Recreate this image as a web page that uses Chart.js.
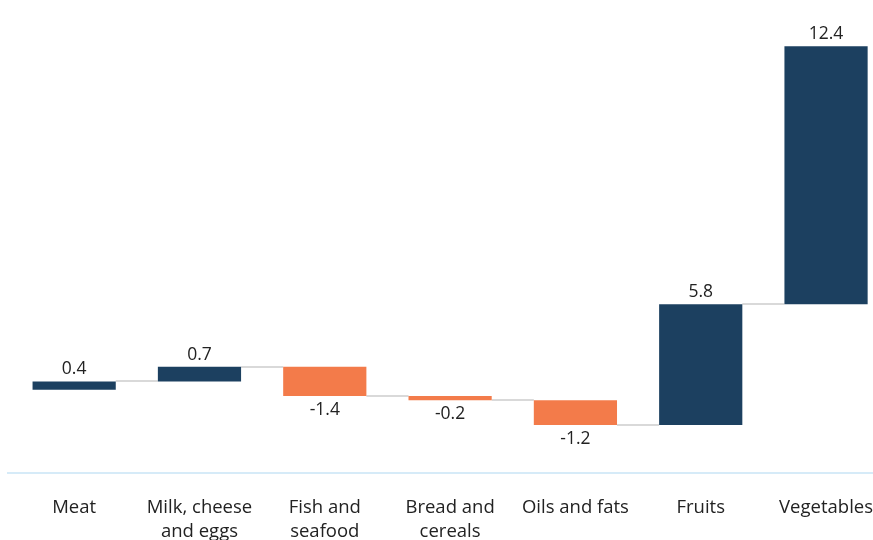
<!DOCTYPE html>
<html><head><meta charset="utf-8">
<script src="https://cdn.jsdelivr.net/npm/chart.js@4/dist/chart.umd.min.js"></script>
<style>html,body{margin:0;padding:0;overflow:hidden;background:#fff}#wrap{position:absolute;left:0;top:0;width:896px;height:540px}</style>
</head><body><div id="wrap"><canvas id="c" width="896" height="540"></canvas></div>
<script>
const categories = [["Meat"], ["Milk, cheese", "and eggs"], ["Fish and", "seafood"], ["Bread and", "cereals"], ["Oils and fats"], ["Fruits"], ["Vegetables"]];
const changes = [0.4, 0.7, -1.4, -0.2, -1.2, 5.8, 12.4];
const valueLabels = ["0.4", "0.7", "-1.4", "-0.2", "-1.2", "5.8", "12.4"];

const floating = [];
let run = 0;
for (const v of changes) { floating.push([run, run + v]); run += v; }
const NAVY = '#1c4060', ORANGE = '#f37b4a';

const connectors = {
  id: 'connectors',
  beforeDatasetsDraw(chart) {
    const ctx = chart.ctx, meta = chart.getDatasetMeta(0), y = chart.scales.y, ca = chart.chartArea;
    ctx.save();
    ctx.strokeStyle = '#d6ebf8'; ctx.lineWidth = 2;
    ctx.beginPath(); ctx.moveTo(7, ca.bottom); ctx.lineTo(chart.width, ca.bottom); ctx.stroke();
    ctx.strokeStyle = '#d9d9d9'; ctx.lineWidth = 2;
    for (let i = 0; i < floating.length - 1; i++) {
      const a = meta.data[i], b = meta.data[i + 1];
      const py = Math.round(y.getPixelForValue(floating[i][1]));
      ctx.beginPath();
      ctx.moveTo(a.x + a.width / 2, py); ctx.lineTo(b.x - b.width / 2, py); ctx.stroke();
    }
    ctx.restore();
  },
  afterDatasetsDraw(chart) {
    const ctx = chart.ctx, meta = chart.getDatasetMeta(0), y = chart.scales.y;
    ctx.save(); ctx.fillStyle = '#222'; ctx.font = '17.5px "Open Sans"'; ctx.textAlign = 'center'; ctx.textBaseline = 'middle';
    for (let i = 0; i < floating.length; i++) {
      const el = meta.data[i];
      const py = y.getPixelForValue(floating[i][1]);
      const off = changes[i] >= 0 ? -12 : 14;
      ctx.fillText(valueLabels[i], el.x, py + off);
    }
    ctx.restore();
  }
};

new Chart(document.getElementById('c'), {
  type: 'bar',
  data: { labels: categories, datasets: [{ data: floating,
    backgroundColor: changes.map(v => v >= 0 ? NAVY : ORANGE),
    borderWidth: 0, barPercentage: 1, categoryPercentage: 0.664, borderSkipped: false }] },
  options: {
    responsive: false, animation: false,
    layout: { padding: { top: 15, left: 11.5, right: 0, bottom: 0 } },
    plugins: { legend: { display: false }, tooltip: { enabled: false } },
    scales: {
      y: { display: false, min: -4, max: 18 },
      x: { grid: { display: false, drawTicks: false }, border: { display: false },
        afterFit: (s) => { s.height = 67; },
        ticks: { color: '#222', font: { family: 'Open Sans', size: 18.5, lineHeight: 1.3 }, padding: 23, maxRotation: 0, autoSkip: false } }
    }
  },
  plugins: [connectors]
});
</script></body></html>
